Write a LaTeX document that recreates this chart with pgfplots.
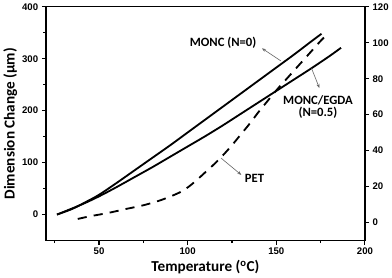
\documentclass[border=0pt]{standalone}
\usepackage{fontspec}
\setmainfont{Carlito}
\newfontfamily\tickfont{Liberation Sans}
\usepackage{pgfplots}
\pgfplotsset{compat=1.18}
\usetikzlibrary{arrows.meta}

\begin{document}
\begin{tikzpicture}
\pgfplotsset{
  common/.style={
    scale only axis, width=314bp, height=230bp,
    xmin=20, xmax=200,
    tick align=outside,
    major tick length=4bp, minor tick length=2.5bp,
    axis line style={line width=1.4bp},
    every tick/.style={line width=1.1bp, black},
    tick label style={font=\tickfont\bfseries\fontsize{9.5}{10}\selectfont},
    /pgf/number format/assume math mode=true,
  }
}
\begin{axis}[
  common,
  ymin=-50, ymax=400,
  xtick={50,100,150,200}, ytick={0,100,200,300,400},
  minor xtick={25,75,125,175}, minor ytick={50,150,250,350},
  xtick pos=bottom, ytick pos=left,
  xlabel={Temperature (\textsuperscript{o}C)},
  ylabel={Dimension Change (μm)},
  label style={font=\bfseries\fontsize{15}{16}\selectfont},
  xlabel style={yshift=1.5bp},
  ylabel style={yshift=-2bp},
]
% MONC (N=0)
\addplot[line width=1.8bp, smooth] coordinates {
(26.3,0) (35,11) (43.6,26) (50,38) (60,61) (70,85) (80,109) (90,133)
(100,158) (110,183) (120,208) (130,233) (140,258) (150,283) (160,308)
(170,334) (175.5,348)
};
% MONC/EGDA (N=0.5)
\addplot[line width=1.8bp, smooth] coordinates {
(26.3,0) (40,19) (50,35) (60,53) (70,72) (80,91) (90,111) (100,131)
(110,151) (120,172) (130,194) (140,216) (150,238) (160,260) (170,282)
(180,305) (186.5,321)
};
\node[font=\bfseries\fontsize{12.5}{12.7}\selectfont] at (axis cs:120,330) {MONC (N=0)};
\draw[-{Stealth[length=4bp,width=3bp]}, black!60, line width=0.6bp] (axis cs:152.5,296) -- (axis cs:141.9,320);
\node[font=\bfseries\fontsize{12.5}{12.7}\selectfont, align=center] at (axis cs:173.5,207) {MONC/EGDA\\(N=0.5)};
\draw[-{Stealth[length=4bp,width=3bp]}, black!60, line width=0.6bp] (axis cs:169.9,281.3) -- (axis cs:174.3,243.6);
\node[font=\bfseries\fontsize{12.5}{12.7}\selectfont] at (axis cs:137.7,69.7) {PET};
\draw[-{Stealth[length=4bp,width=3bp]}, black!60, line width=0.6bp] (axis cs:118.8,108.8) -- (axis cs:130.3,76.2);
\end{axis}
\begin{axis}[
  common,
  ymin=-10, ymax=120,
  axis x line=none, axis y line*=right,
  ytick={0,20,40,60,80,100,120},
]
% PET
\addplot[line width=1.8bp, smooth, dash pattern=on 9bp off 7bp] coordinates {
(38,2) (45,3.5) (55,5.3) (65,7.5) (75,9.6) (85,12.5) (95,16.5) (100,19.5)
(105,23.5) (110,28) (115,32.5) (120,37.5) (125,43) (130,49) (135,55)
(140,61.5) (145,67.5) (150,73.5) (155,79) (160,84.5) (165,90) (170,95.5)
(175,101) (179,105)
};
\end{axis}
\end{tikzpicture}
\end{document}
